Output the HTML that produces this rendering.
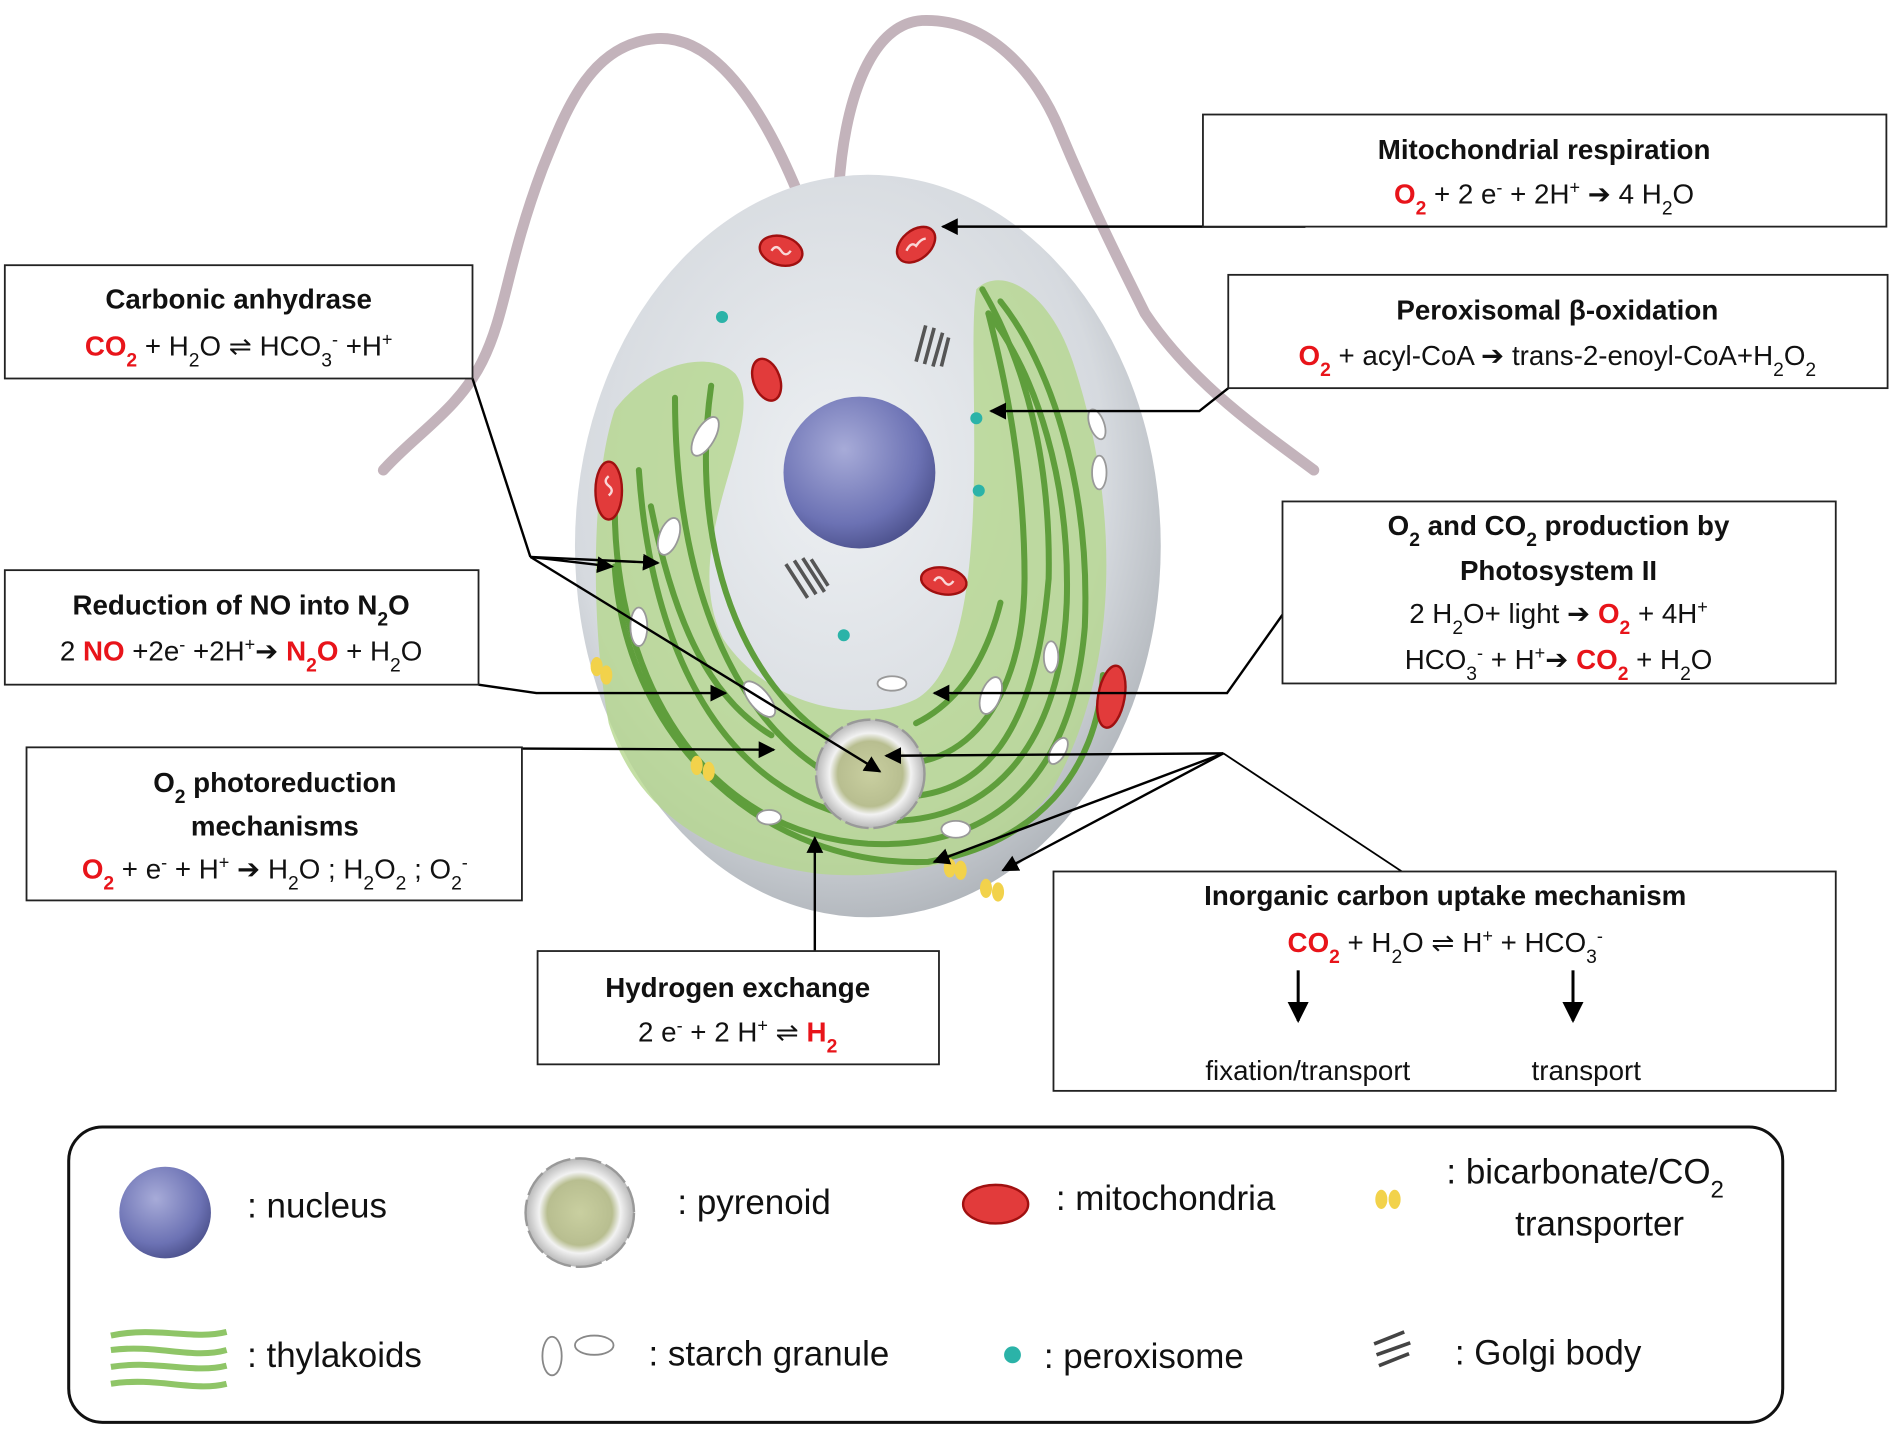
<!DOCTYPE html>
<html><head><meta charset="utf-8"><style>
html,body{margin:0;padding:0;background:#fff;}
svg{display:block;}
text{font-family:"Liberation Sans",sans-serif;fill:#111;}
.t{font-weight:bold;font-size:23px;}
.e{font-size:23px;}
.r{fill:#e8141a;font-weight:bold;}
.lg{font-size:29px;}
</style></head><body>
<svg width="1890" height="1432" viewBox="0 0 1568 1188" xmlns="http://www.w3.org/2000/svg">
<defs>
<radialGradient id="cell" cx="0.45" cy="0.4" r="0.65">
<stop offset="0" stop-color="#edf0f3"/><stop offset="0.7" stop-color="#d6dadf"/><stop offset="1" stop-color="#a9aeb4"/></radialGradient>
<radialGradient id="nuc" cx="0.4" cy="0.35" r="0.7">
<stop offset="0" stop-color="#a7abd8"/><stop offset="0.7" stop-color="#6c72b4"/><stop offset="1" stop-color="#4a4f8a"/></radialGradient>
<radialGradient id="pyr" cx="0.5" cy="0.5" r="0.5">
<stop offset="0" stop-color="#c9cfa0"/><stop offset="0.6" stop-color="#b8be90"/><stop offset="0.75" stop-color="#f2f2f2"/><stop offset="1" stop-color="#b8b8b8"/></radialGradient>
<marker id="ah" viewBox="0 0 10 10" refX="9" refY="5" markerWidth="7" markerHeight="7" orient="auto"><path d="M0,0 L10,5 L0,10 z" fill="#000"/></marker>
</defs>
<rect width="1568" height="1188" fill="#fff"/>
<!-- flagella -->
<path d="M661,158 C620,60 580,30 545,32 C490,36 470,90 450,140 C420,220 420,260 400,300 C380,340 345,360 318,390" fill="none" stroke="#c3b3bb" stroke-width="9" stroke-linecap="round"/>
<path d="M696,155 C700,90 720,20 765,17 C820,15 860,60 880,110 C905,170 930,220 950,260 C990,320 1050,360 1090,390" fill="none" stroke="#c3b3bb" stroke-width="9" stroke-linecap="round"/>
<!-- cell -->
<ellipse cx="720" cy="453" rx="243" ry="308" fill="url(#cell)"/>
<!-- chloroplast -->
<path d="M510,340 C540,300 590,290 610,310 C640,350 560,450 600,530 C640,590 720,600 760,580 C830,540 800,300 810,240 C830,220 870,240 890,300 C930,420 930,560 870,660 C820,720 740,730 680,725 C600,715 530,680 505,600 C490,520 490,400 510,340 Z" fill="#b5d78f" opacity="0.8"/>
<g fill="none" stroke="#5f9e3c" stroke-width="5" stroke-linecap="round">
<path d="M510,420 C510,560 580,690 720,700 C830,705 890,640 900,520 C905,400 870,300 830,250"/>
<path d="M530,390 C540,540 600,660 720,680 C820,690 880,620 885,500 C888,400 860,310 820,260"/>
<path d="M560,330 C560,500 620,630 730,660 C820,670 860,600 870,480 C872,380 850,300 815,240"/>
<path d="M590,320 C570,460 620,590 720,630 C800,650 850,580 850,480 C850,380 830,300 820,260"/>
<path d="M510,470 C520,620 640,720 770,715 C860,700 910,640 915,560"/>
<path d="M540,420 C560,520 590,580 640,610 M760,600 C800,580 820,540 830,500"/>
</g>
<g fill="#fff" stroke="#999" stroke-width="1.5">
<ellipse cx="585" cy="362" rx="8" ry="18" transform="rotate(30 585 362)"/>
<ellipse cx="555" cy="445" rx="8" ry="16" transform="rotate(20 555 445)"/>
<ellipse cx="530" cy="520" rx="7" ry="16"/>
<ellipse cx="630" cy="580" rx="8" ry="18" transform="rotate(-40 630 580)"/>
<ellipse cx="740" cy="567" rx="12" ry="6"/>
<ellipse cx="822" cy="577" rx="8" ry="16" transform="rotate(20 822 577)"/>
<ellipse cx="872" cy="545" rx="6" ry="13"/>
<ellipse cx="910" cy="352" rx="6" ry="13" transform="rotate(-20 910 352)"/>
<ellipse cx="912" cy="392" rx="6" ry="14"/>
<ellipse cx="638" cy="678" rx="10" ry="6"/>
<ellipse cx="793" cy="688" rx="12" ry="7"/>
<ellipse cx="878" cy="623" rx="6" ry="12" transform="rotate(30 878 623)"/>
</g>
<circle cx="713" cy="392" r="63" fill="url(#nuc)"/>
<circle cx="722" cy="642" r="45" fill="url(#pyr)" stroke="#999" stroke-width="2" stroke-dasharray="20 4"/>
<g fill="#e23b3b" stroke="#a01010" stroke-width="2">
<ellipse cx="648" cy="208" rx="18" ry="12" transform="rotate(15 648 208)"/>
<ellipse cx="760" cy="203" rx="18" ry="12" transform="rotate(-40 760 203)"/>
<ellipse cx="636" cy="315" rx="11" ry="18" transform="rotate(-20 636 315)"/>
<ellipse cx="505" cy="407" rx="11" ry="24"/>
<ellipse cx="783" cy="482" rx="19" ry="11" transform="rotate(10 783 482)"/>
<ellipse cx="922" cy="578" rx="11" ry="26" transform="rotate(10 922 578)"/>
</g>
<g fill="none" stroke="#fff" stroke-width="2" opacity="0.8">
<path d="M640,208 q4,-6 8,0 q4,6 8,0"/><path d="M752,208 q4,-8 8,-4 q4,-6 8,-6"/><path d="M505,395 q-5,4 0,8 q5,4 0,8"/><path d="M775,482 q4,-6 8,0 q4,6 8,0"/>
</g>
<g fill="#2bb3a8"><circle cx="599" cy="263" r="5"/><circle cx="810" cy="347" r="5"/><circle cx="812" cy="407" r="5"/><circle cx="700" cy="527" r="5"/></g>
<g stroke="#555" stroke-width="3" fill="none"><path d="M760,300 l8,-30 M767,302 l8,-30 M774,304 l8,-28 M781,304 l6,-24"/><path d="M652,468 l18,28 M659,465 l18,28 M666,463 l18,28 M673,464 l14,22"/></g>
<g fill="#f2d24b"><ellipse cx="495" cy="553" rx="5" ry="8"/><ellipse cx="503" cy="560" rx="5" ry="8"/><ellipse cx="578" cy="635" rx="5" ry="8"/><ellipse cx="588" cy="640" rx="5" ry="8"/><ellipse cx="788" cy="720" rx="5" ry="8"/><ellipse cx="797" cy="722" rx="5" ry="8"/><ellipse cx="818" cy="737" rx="5" ry="8"/><ellipse cx="828" cy="740" rx="5" ry="8"/></g>

<g stroke="#000" stroke-width="2" fill="none">
<line x1="1083" y1="188" x2="782" y2="188" marker-end="url(#ah)"/>
<polyline points="1019,322 995,341 822,341" marker-end="url(#ah)"/>
<line x1="392" y1="314" x2="440" y2="462"/>
<line x1="440" y1="462" x2="546" y2="467" marker-end="url(#ah)"/>
<line x1="440" y1="462" x2="508" y2="470" marker-end="url(#ah)"/>
<line x1="440" y1="462" x2="730" y2="640" marker-end="url(#ah)"/>
<polyline points="397,568 445,575 602,575" marker-end="url(#ah)"/>
<line x1="433" y1="621" x2="642" y2="622" marker-end="url(#ah)"/>
<polyline points="1064,510 1018,575 775,575" marker-end="url(#ah)"/>
<line x1="1163" y1="723" x2="1015" y2="625" stroke-width="1.5"/>
<line x1="1015" y1="625" x2="735" y2="627" marker-end="url(#ah)"/>
<line x1="1015" y1="625" x2="775" y2="715" marker-end="url(#ah)"/>
<line x1="1015" y1="625" x2="832" y2="722" marker-end="url(#ah)"/>
<line x1="676" y1="789" x2="676" y2="695" marker-end="url(#ah)"/>
</g>

<g fill="#fff" stroke="#222" stroke-width="1.5">
<rect x="998" y="95" width="567" height="93"/>
<rect x="4" y="220" width="388" height="94"/>
<rect x="1019" y="228" width="547" height="94"/>
<rect x="4" y="473" width="393" height="95"/>
<rect x="1064" y="416" width="459" height="151"/>
<rect x="22" y="620" width="411" height="127"/>
<rect x="874" y="723" width="649" height="182"/>
<rect x="446" y="789" width="333" height="94"/>
</g>
<g stroke="#000" stroke-width="2.5" fill="none">
<line x1="1077" y1="805" x2="1077" y2="847" marker-end="url(#ah)"/>
<line x1="1305" y1="805" x2="1305" y2="847" marker-end="url(#ah)"/>
</g>
<g text-anchor="middle">
<text class="t" x="1281" y="132">Mitochondrial respiration</text>
<text class="e" x="1281" y="169"><tspan class="r">O<tspan baseline-shift="sub" font-size="16">2</tspan></tspan> + 2 e<tspan baseline-shift="super" font-size="15">-</tspan> + 2H<tspan baseline-shift="super" font-size="15">+</tspan> ➔ 4 H<tspan baseline-shift="sub" font-size="16">2</tspan>O</text>

<text class="t" x="198" y="256">Carbonic anhydrase</text>
<text class="e" x="198" y="295"><tspan class="r">CO<tspan baseline-shift="sub" font-size="16">2</tspan></tspan> + H<tspan baseline-shift="sub" font-size="16">2</tspan>O ⇌ HCO<tspan baseline-shift="sub" font-size="16">3</tspan><tspan baseline-shift="super" font-size="15">-</tspan> +H<tspan baseline-shift="super" font-size="15">+</tspan></text>

<text class="t" x="1292" y="265">Peroxisomal β-oxidation</text>
<text class="e" x="1292" y="303"><tspan class="r">O<tspan baseline-shift="sub" font-size="16">2</tspan></tspan> + acyl-CoA ➔ trans-2-enoyl-CoA+H<tspan baseline-shift="sub" font-size="16">2</tspan>O<tspan baseline-shift="sub" font-size="16">2</tspan></text>

<text class="t" x="200" y="510">Reduction of NO into N<tspan baseline-shift="sub" font-size="16">2</tspan>O</text>
<text class="e" x="200" y="548">2 <tspan class="r">NO</tspan> +2e<tspan baseline-shift="super" font-size="15">-</tspan> +2H<tspan baseline-shift="super" font-size="15">+</tspan>➔ <tspan class="r">N<tspan baseline-shift="sub" font-size="16">2</tspan>O</tspan> + H<tspan baseline-shift="sub" font-size="16">2</tspan>O</text>

<text class="t" x="1293" y="444">O<tspan baseline-shift="sub" font-size="16">2</tspan> and CO<tspan baseline-shift="sub" font-size="16">2</tspan> production by</text>
<text class="t" x="1293" y="481">Photosystem II</text>
<text class="e" x="1293" y="517">2 H<tspan baseline-shift="sub" font-size="16">2</tspan>O+ light ➔ <tspan class="r">O<tspan baseline-shift="sub" font-size="16">2</tspan></tspan> + 4H<tspan baseline-shift="super" font-size="15">+</tspan></text>
<text class="e" x="1293" y="555">HCO<tspan baseline-shift="sub" font-size="16">3</tspan><tspan baseline-shift="super" font-size="15">-</tspan> + H<tspan baseline-shift="super" font-size="15">+</tspan>➔ <tspan class="r">CO<tspan baseline-shift="sub" font-size="16">2</tspan></tspan> + H<tspan baseline-shift="sub" font-size="16">2</tspan>O</text>

<text class="t" x="228" y="657">O<tspan baseline-shift="sub" font-size="16">2</tspan> photoreduction</text>
<text class="t" x="228" y="693">mechanisms</text>
<text class="e" x="228" y="729"><tspan class="r">O<tspan baseline-shift="sub" font-size="16">2</tspan></tspan> + e<tspan baseline-shift="super" font-size="15">-</tspan> + H<tspan baseline-shift="super" font-size="15">+</tspan> ➔ H<tspan baseline-shift="sub" font-size="16">2</tspan>O ; H<tspan baseline-shift="sub" font-size="16">2</tspan>O<tspan baseline-shift="sub" font-size="16">2</tspan> ; O<tspan baseline-shift="sub" font-size="16">2</tspan><tspan baseline-shift="super" font-size="15">-</tspan></text>

<text class="t" x="1199" y="751">Inorganic carbon uptake mechanism</text>
<text class="e" x="1199" y="790"><tspan class="r">CO<tspan baseline-shift="sub" font-size="16">2</tspan></tspan> + H<tspan baseline-shift="sub" font-size="16">2</tspan>O ⇌ H<tspan baseline-shift="super" font-size="15">+</tspan> + HCO<tspan baseline-shift="sub" font-size="16">3</tspan><tspan baseline-shift="super" font-size="15">-</tspan></text>
<text class="e" x="1085" y="896">fixation/transport</text>
<text class="e" x="1316" y="896">transport</text>

<text class="t" x="612" y="827">Hydrogen exchange</text>
<text class="e" x="612" y="864">2 e<tspan baseline-shift="super" font-size="15">-</tspan> + 2 H<tspan baseline-shift="super" font-size="15">+</tspan> ⇌ <tspan class="r">H<tspan baseline-shift="sub" font-size="16">2</tspan></tspan></text>
</g>

<rect x="57" y="935" width="1422" height="245" rx="28" fill="#fff" stroke="#111" stroke-width="2.5"/>
<circle cx="137" cy="1006" r="38" fill="url(#nuc)"/>
<text class="lg" x="205" y="1010">: nucleus</text>
<circle cx="481" cy="1006" r="45" fill="url(#pyr)" stroke="#999" stroke-width="2" stroke-dasharray="22 4"/>
<text class="lg" x="562" y="1007">: pyrenoid</text>
<ellipse cx="826" cy="999" rx="27" ry="16" fill="#e23b3b" stroke="#a01010" stroke-width="2"/>
<text class="lg" x="876" y="1004">: mitochondria</text>
<ellipse cx="1146" cy="995" rx="5" ry="8" fill="#f2d24b"/><ellipse cx="1157" cy="995" rx="5" ry="8" fill="#f2d24b"/>
<text class="lg" x="1200" y="982">: bicarbonate/CO<tspan baseline-shift="sub" font-size="20">2</tspan></text>
<text class="lg" x="1257" y="1025">transporter</text>
<g stroke="#8fc567" stroke-width="5" fill="none"><path d="M92,1108 C130,1100 160,1112 188,1105"/><path d="M92,1120 C130,1115 160,1128 188,1120"/><path d="M92,1134 C130,1128 160,1140 188,1133"/><path d="M92,1148 C130,1142 160,1155 188,1148"/></g>
<text class="lg" x="205" y="1134">: thylakoids</text>
<ellipse cx="458" cy="1125" rx="8" ry="16" fill="#fff" stroke="#888" stroke-width="1.5"/>
<ellipse cx="493" cy="1116" rx="16" ry="8" fill="#fff" stroke="#888" stroke-width="1.5"/>
<text class="lg" x="538" y="1133">: starch granule</text>
<circle cx="840" cy="1124" r="7" fill="#2bb3a8"/>
<text class="lg" x="866" y="1135">: peroxisome</text>
<g stroke="#444" stroke-width="3"><path d="M1140,1115 l25,-10 M1142,1124 l28,-10 M1144,1133 l25,-10"/></g>
<text class="lg" x="1207" y="1132">: Golgi body</text>
</svg>
</body></html>
